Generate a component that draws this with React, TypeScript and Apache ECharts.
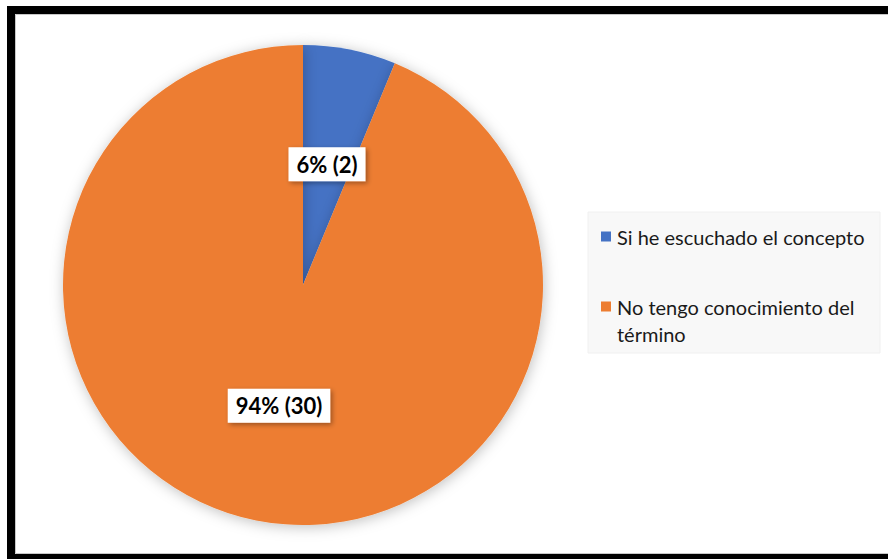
import React, { useEffect, useRef } from "react";
import * as echarts from "echarts";

const categories = ["Si he escuchado el concepto", "No tengo conocimiento del término"];
const legendLines = [["Si he escuchado el concepto"], ["No tengo conocimiento del", "término"]];
const values = [2, 30];
const percents = ["6%", "94%"];
const colors = ["#4472C4", "#ED7D31"];

export default function App() {
  const ref = useRef<HTMLDivElement>(null);
  useEffect(() => {
    const chart = echarts.init(ref.current!, null, { renderer: "svg" });
    const legendGraphics: any[] = [];
    const itemTops = [231.5, 301.5];
    categories.forEach((c, i) => {
      legendGraphics.push({
        type: "rect",
        shape: { x: 601, y: itemTops[i], width: 10, height: 10 },
        style: { fill: colors[i] },
      });
      legendGraphics.push({
        type: "text",
        x: 617,
        y: itemTops[i] + 5 - 13.5,
        style: {
          text: legendLines[i].join("\n"),
          fill: "#1a1a1a",
          font: "20px Lato",
          lineHeight: 27,
          verticalAlign: "top",
        },
      });
    });
    const blk = { stroke: "#000", lineWidth: 8 };
    chart.setOption({
      animation: false,
      backgroundColor: "#ffffff",
      graphic: [
        {
          type: "rect",
          shape: { x: 588, y: 212, width: 292, height: 141 },
          style: { fill: "#f8f8f8", stroke: "#f0f0f0", lineWidth: 1 },
          z: -1,
        },
        ...legendGraphics,
        { type: "line", shape: { x1: 15.5, y1: 14.5, x2: 888, y2: 14.5 }, style: { stroke: "#c8c8c8", lineWidth: 1 }, z: 100 },
        { type: "line", shape: { x1: 15.5, y1: 14.5, x2: 15.5, y2: 553.5 }, style: { stroke: "#c8c8c8", lineWidth: 1 }, z: 100 },
        { type: "line", shape: { x1: 15.5, y1: 553.5, x2: 888, y2: 553.5 }, style: { stroke: "#c8c8c8", lineWidth: 1 }, z: 100 },
        { type: "line", shape: { x1: 7, y1: 10, x2: 888, y2: 10 }, style: blk, z: 101 },
        { type: "line", shape: { x1: 11, y1: 6, x2: 11, y2: 559 }, style: blk, z: 101 },
        { type: "line", shape: { x1: 7, y1: 558, x2: 888, y2: 558 }, style: blk, z: 101 },
      ],
      series: [
        {
          type: "pie",
          center: [303, 285],
          radius: 240,
          startAngle: 90,
          clockwise: true,
          silent: true,
          itemStyle: {
            shadowBlur: 14,
            shadowColor: "rgba(0,0,0,0.25)",
            shadowOffsetX: 1,
            shadowOffsetY: 2,
          },
          label: {
            position: "inside",
            formatter: (p: any) => `${percents[p.dataIndex]} (${p.value})`,
            color: "#000",
            fontFamily: "Lato",
            fontWeight: "bold",
            fontSize: 22,
            backgroundColor: "#fff",
            padding: [7, 8, 5, 8],
            shadowBlur: 5,
            shadowColor: "rgba(0,0,0,0.35)",
            shadowOffsetX: 2,
            shadowOffsetY: 2,
          },
          labelLine: { show: false },
          data: categories.map((c, i) => ({
            name: c,
            value: values[i],
            itemStyle: { color: colors[i] },
          })),
        },
      ],
    });
    return () => chart.dispose();
  }, []);
  return (
    <div
      ref={ref}
      style={{ position: "absolute", left: 0, top: 0, width: 888, height: 559 }}
    />
  );
}
